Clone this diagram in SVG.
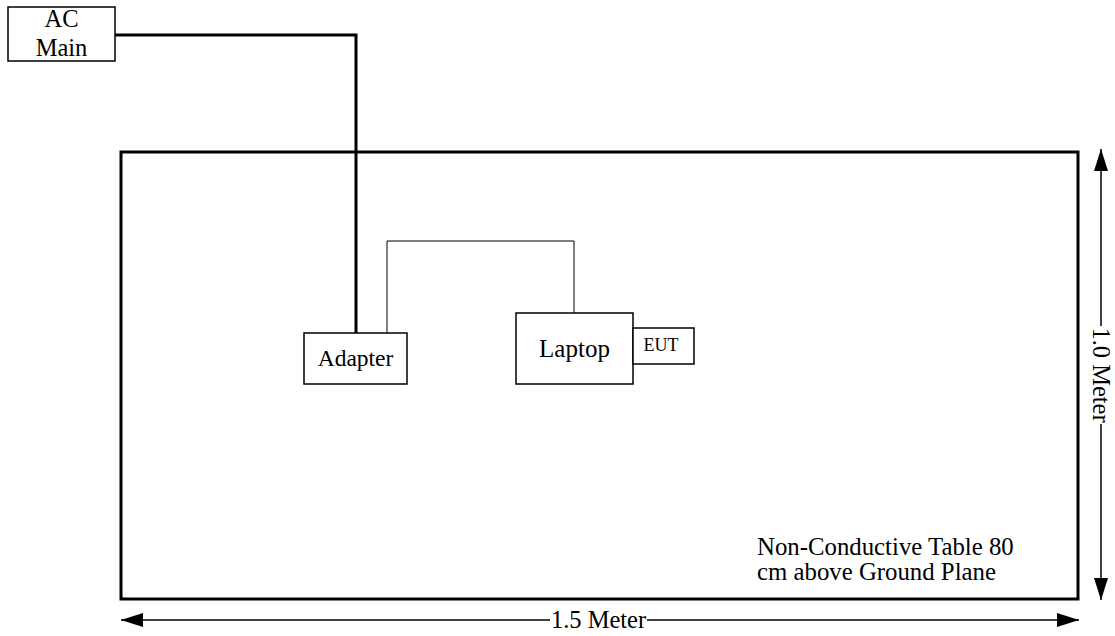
<svg xmlns="http://www.w3.org/2000/svg" width="1115" height="636" viewBox="0 0 1115 636">
<style>
  text { font-family: "Liberation Serif", "Times New Roman", serif; fill: #000; }
  .box { fill: #fff; stroke: #000; stroke-width: 1.5; }
  .thick { fill: none; stroke: #000; stroke-width: 3; }
  .thin { fill: none; stroke: #000; stroke-width: 1; }
  .dim { fill: none; stroke: #000; stroke-width: 1.5; }
</style>
<defs>
  <marker id="ah" viewBox="0 0 22 14" refX="22" refY="7" markerWidth="22" markerHeight="14" markerUnits="userSpaceOnUse" orient="auto-start-reverse">
    <path d="M0,0 L22,7 L0,14 Z" fill="#000"/>
  </marker>
</defs>
<rect width="1115" height="636" fill="#fff"/>
<g id="table">
  <rect x="121" y="152" width="957" height="447" fill="none" stroke="#000" stroke-width="3"/>
  <text x="757" y="555" font-size="24.8">Non-Conductive Table 80</text>
  <text x="757" y="580" font-size="24.8">cm above Ground Plane</text>
</g>
<g id="connectors">
  <polyline class="thick" points="115,35 356,35 356,333"/>
  <polyline class="thin" points="387,333 387,241 574,241 574,313"/>
</g>
<g id="ac-main">
  <rect class="box" x="8" y="7" width="107" height="54"/>
  <text x="61.5" y="27" font-size="24.5" text-anchor="middle">AC</text>
  <text x="61.5" y="56" font-size="24.5" text-anchor="middle">Main</text>
</g>
<g id="adapter">
  <rect class="box" x="304" y="333" width="103" height="51"/>
  <text x="355.5" y="366" font-size="23.5" text-anchor="middle">Adapter</text>
</g>
<g id="laptop">
  <rect class="box" x="516" y="313" width="117" height="71"/>
  <text x="574.5" y="357" font-size="25" text-anchor="middle">Laptop</text>
</g>
<g id="eut">
  <rect class="box" x="633" y="328" width="61" height="36"/>
  <text x="661" y="351" font-size="18" text-anchor="middle">EUT</text>
</g>
<g id="dimensions">
  <line class="dim" x1="121" y1="620" x2="550" y2="620" marker-start="url(#ah)"/>
  <line class="dim" x1="647" y1="620" x2="1079" y2="620" marker-end="url(#ah)"/>
  <text x="598.5" y="628" font-size="24.5" text-anchor="middle">1.5 Meter</text>
  <line class="dim" x1="1101" y1="149" x2="1101" y2="326" marker-start="url(#ah)"/>
  <line class="dim" x1="1101" y1="424" x2="1101" y2="600" marker-end="url(#ah)"/>
  <text transform="translate(1092.5,375) rotate(90)" x="0" y="0" font-size="24.5" text-anchor="middle">1.0 Meter</text>
</g>
</svg>
